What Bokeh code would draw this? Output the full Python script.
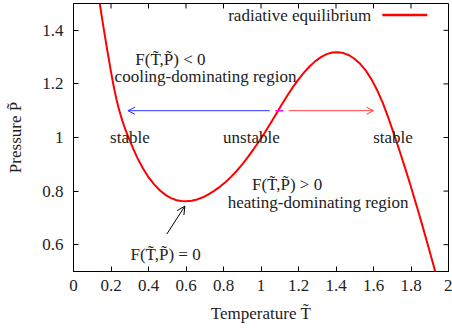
from bokeh.plotting import figure
from bokeh.models import Range1d, FixedTicker, Label, Arrow, OpenHead
from bokeh.embed import file_html
from bokeh.resources import INLINE

# Radiative equilibrium curve F(T, P) = 0
curve_T = [0.135, 0.14, 0.15, 0.16, 0.17, 0.18, 0.19, 0.20, 0.21, 0.22,
           0.23, 0.24, 0.25, 0.26, 0.27, 0.28, 0.29, 0.30, 0.32, 0.34,
           0.37, 0.40, 0.43, 0.46, 0.49, 0.52, 0.55, 0.575, 0.60, 0.63,
           0.66, 0.69, 0.72, 0.75, 0.78, 0.81, 0.84, 0.87, 0.90, 0.93,
           0.96, 0.99, 1.02, 1.05, 1.08, 1.11, 1.14, 1.17, 1.20, 1.23,
           1.26, 1.29, 1.32, 1.35, 1.38, 1.41, 1.44, 1.47, 1.50, 1.53,
           1.56, 1.59, 1.62, 1.65, 1.68, 1.71, 1.74, 1.77, 1.80, 1.83,
           1.86, 1.89, 1.92, 1.95]
curve_P = [1.523, 1.500, 1.455, 1.411, 1.368, 1.326, 1.286, 1.245, 1.207, 1.172,
           1.140, 1.112, 1.087, 1.064, 1.043, 1.024, 1.006, 0.989, 0.956, 0.925,
           0.885, 0.852, 0.825, 0.803, 0.786, 0.774, 0.766, 0.763, 0.762, 0.764,
           0.769, 0.777, 0.788, 0.801, 0.816, 0.833, 0.853, 0.875, 0.900, 0.927,
           0.956, 0.986, 1.018, 1.052, 1.087, 1.122, 1.156, 1.188, 1.217, 1.243,
           1.266, 1.285, 1.300, 1.311, 1.317, 1.318, 1.315, 1.307, 1.293, 1.274,
           1.249, 1.216, 1.176, 1.128, 1.072, 1.011, 0.948, 0.883, 0.815, 0.745,
           0.673, 0.599, 0.523, 0.446]

x_ticks = [0, 0.2, 0.4, 0.6, 0.8, 1.0, 1.2, 1.4, 1.6, 1.8, 2.0]
x_tick_labels = ["0", "0.2", "0.4", "0.6", "0.8", "1", "1.2", "1.4", "1.6", "1.8", "2"]
y_ticks = [0.6, 0.8, 1.0, 1.2, 1.4]
y_tick_labels = ["0.6", "0.8", "1", "1.2", "1.4"]

series_label = "radiative equilibrium"
x_label = "Temperature T\u0303"
y_label = "Pressure P\u0303"

X_MIN, X_MAX = 0, 2
Y_MIN, Y_MAX = 0.5, 1.5

FONT = "Liberation Serif"
FS = "17px"
TXT = "#222222"

p = figure(width=452, height=336, output_backend="svg", toolbar_location=None,
           x_range=Range1d(X_MIN, X_MAX), y_range=Range1d(Y_MIN, Y_MAX),
           min_border_left=73, min_border_right=4, min_border_top=3,
           min_border_bottom=65, background_fill_color="white",
           border_fill_color="white")
p.grid.visible = False
p.outline_line_color = "black"
p.outline_line_width = 1

p.xaxis.ticker = FixedTicker(ticks=x_ticks)
p.xaxis.major_label_overrides = {t: l for t, l in zip(x_ticks, x_tick_labels)}
p.yaxis.ticker = FixedTicker(ticks=y_ticks)
p.yaxis.major_label_overrides = {t: l for t, l in zip(y_ticks, y_tick_labels)}
p.xaxis.axis_label = x_label
p.yaxis.axis_label = y_label

for ax in (p.xaxis[0], p.yaxis[0]):
    ax.major_tick_in = 5
    ax.major_tick_out = 0
    ax.minor_tick_in = 0
    ax.minor_tick_out = 0
    ax.axis_line_color = "black"
    ax.major_tick_line_color = "black"
    ax.major_label_text_font = FONT
    ax.major_label_text_font_size = FS
    ax.major_label_text_color = TXT
    ax.axis_label_text_font = FONT
    ax.axis_label_text_font_size = FS
    ax.axis_label_text_font_style = "normal"
    ax.axis_label_text_color = TXT
p.xaxis.major_label_standoff = 8
p.xaxis.axis_label_standoff = 10
p.yaxis.major_label_standoff = 10
p.yaxis.axis_label_standoff = 14

# mirrored inward ticks on top and right edges (5 px long)
tick_dy = 5 * (Y_MAX - Y_MIN) / 268.0
tick_dx = 5 * (X_MAX - X_MIN) / 375.0
p.segment(x0=x_ticks, y0=[Y_MAX] * len(x_ticks), x1=x_ticks,
          y1=[Y_MAX - tick_dy] * len(x_ticks), line_color="black", line_width=1)
p.segment(x0=[X_MAX] * len(y_ticks), y0=y_ticks, x1=[X_MAX - tick_dx] * len(y_ticks),
          y1=y_ticks, line_color="black", line_width=1)

p.line(curve_T, curve_P, line_color="#ff0000", line_width=2)

# legend (key on the right of the text, gnuplot style)
p.add_layout(Label(x=1.588, y=1.457, text=series_label, text_font=FONT,
                   text_font_size=FS, text_color=TXT, text_align="right",
                   text_baseline="middle"))
p.add_layout(Arrow(end=None, x_start=1.647, y_start=1.457, x_end=1.887, y_end=1.457,
                   line_color="#ff0000", line_width=2.5))

def lab(x, y, t):
    p.add_layout(Label(x=x, y=y, text=t, text_font=FONT, text_font_size=FS,
                       text_color=TXT, text_align="center", text_baseline="middle"))

lab(0.517, 1.29, "F(T\u0303,P\u0303) < 0")
lab(0.704, 1.226, "cooling-dominating region")
lab(0.301, 1.0, "stable")
lab(0.949, 1.0, "unstable")
lab(1.704, 1.0, "stable")
lab(1.139, 0.823, "F(T\u0303,P\u0303) > 0")
lab(1.305, 0.756, "heating-dominating region")
lab(0.491, 0.562, "F(T\u0303,P\u0303) = 0")

# stability arrows
p.add_layout(Arrow(end=OpenHead(size=7, line_color="#3030ff", line_width=1),
                   x_start=1.047, y_start=1.1, x_end=0.29, y_end=1.1,
                   line_color="#3030ff", line_width=1))
p.add_layout(Arrow(end=None, x_start=1.077, y_start=1.1, x_end=1.118, y_end=1.1,
                   line_color="#ff00ff", line_width=1.5))
p.add_layout(Arrow(end=OpenHead(size=7, line_color="#ff4040", line_width=1),
                   x_start=1.148, y_start=1.1, x_end=1.60, y_end=1.1,
                   line_color="#ff4040", line_width=1))
p.add_layout(Arrow(end=OpenHead(size=8, line_color="black", line_width=1),
                   x_start=0.498, y_start=0.64, x_end=0.594, y_end=0.744,
                   line_color="black", line_width=1))

open("out.html", "w").write(file_html(p, INLINE))
